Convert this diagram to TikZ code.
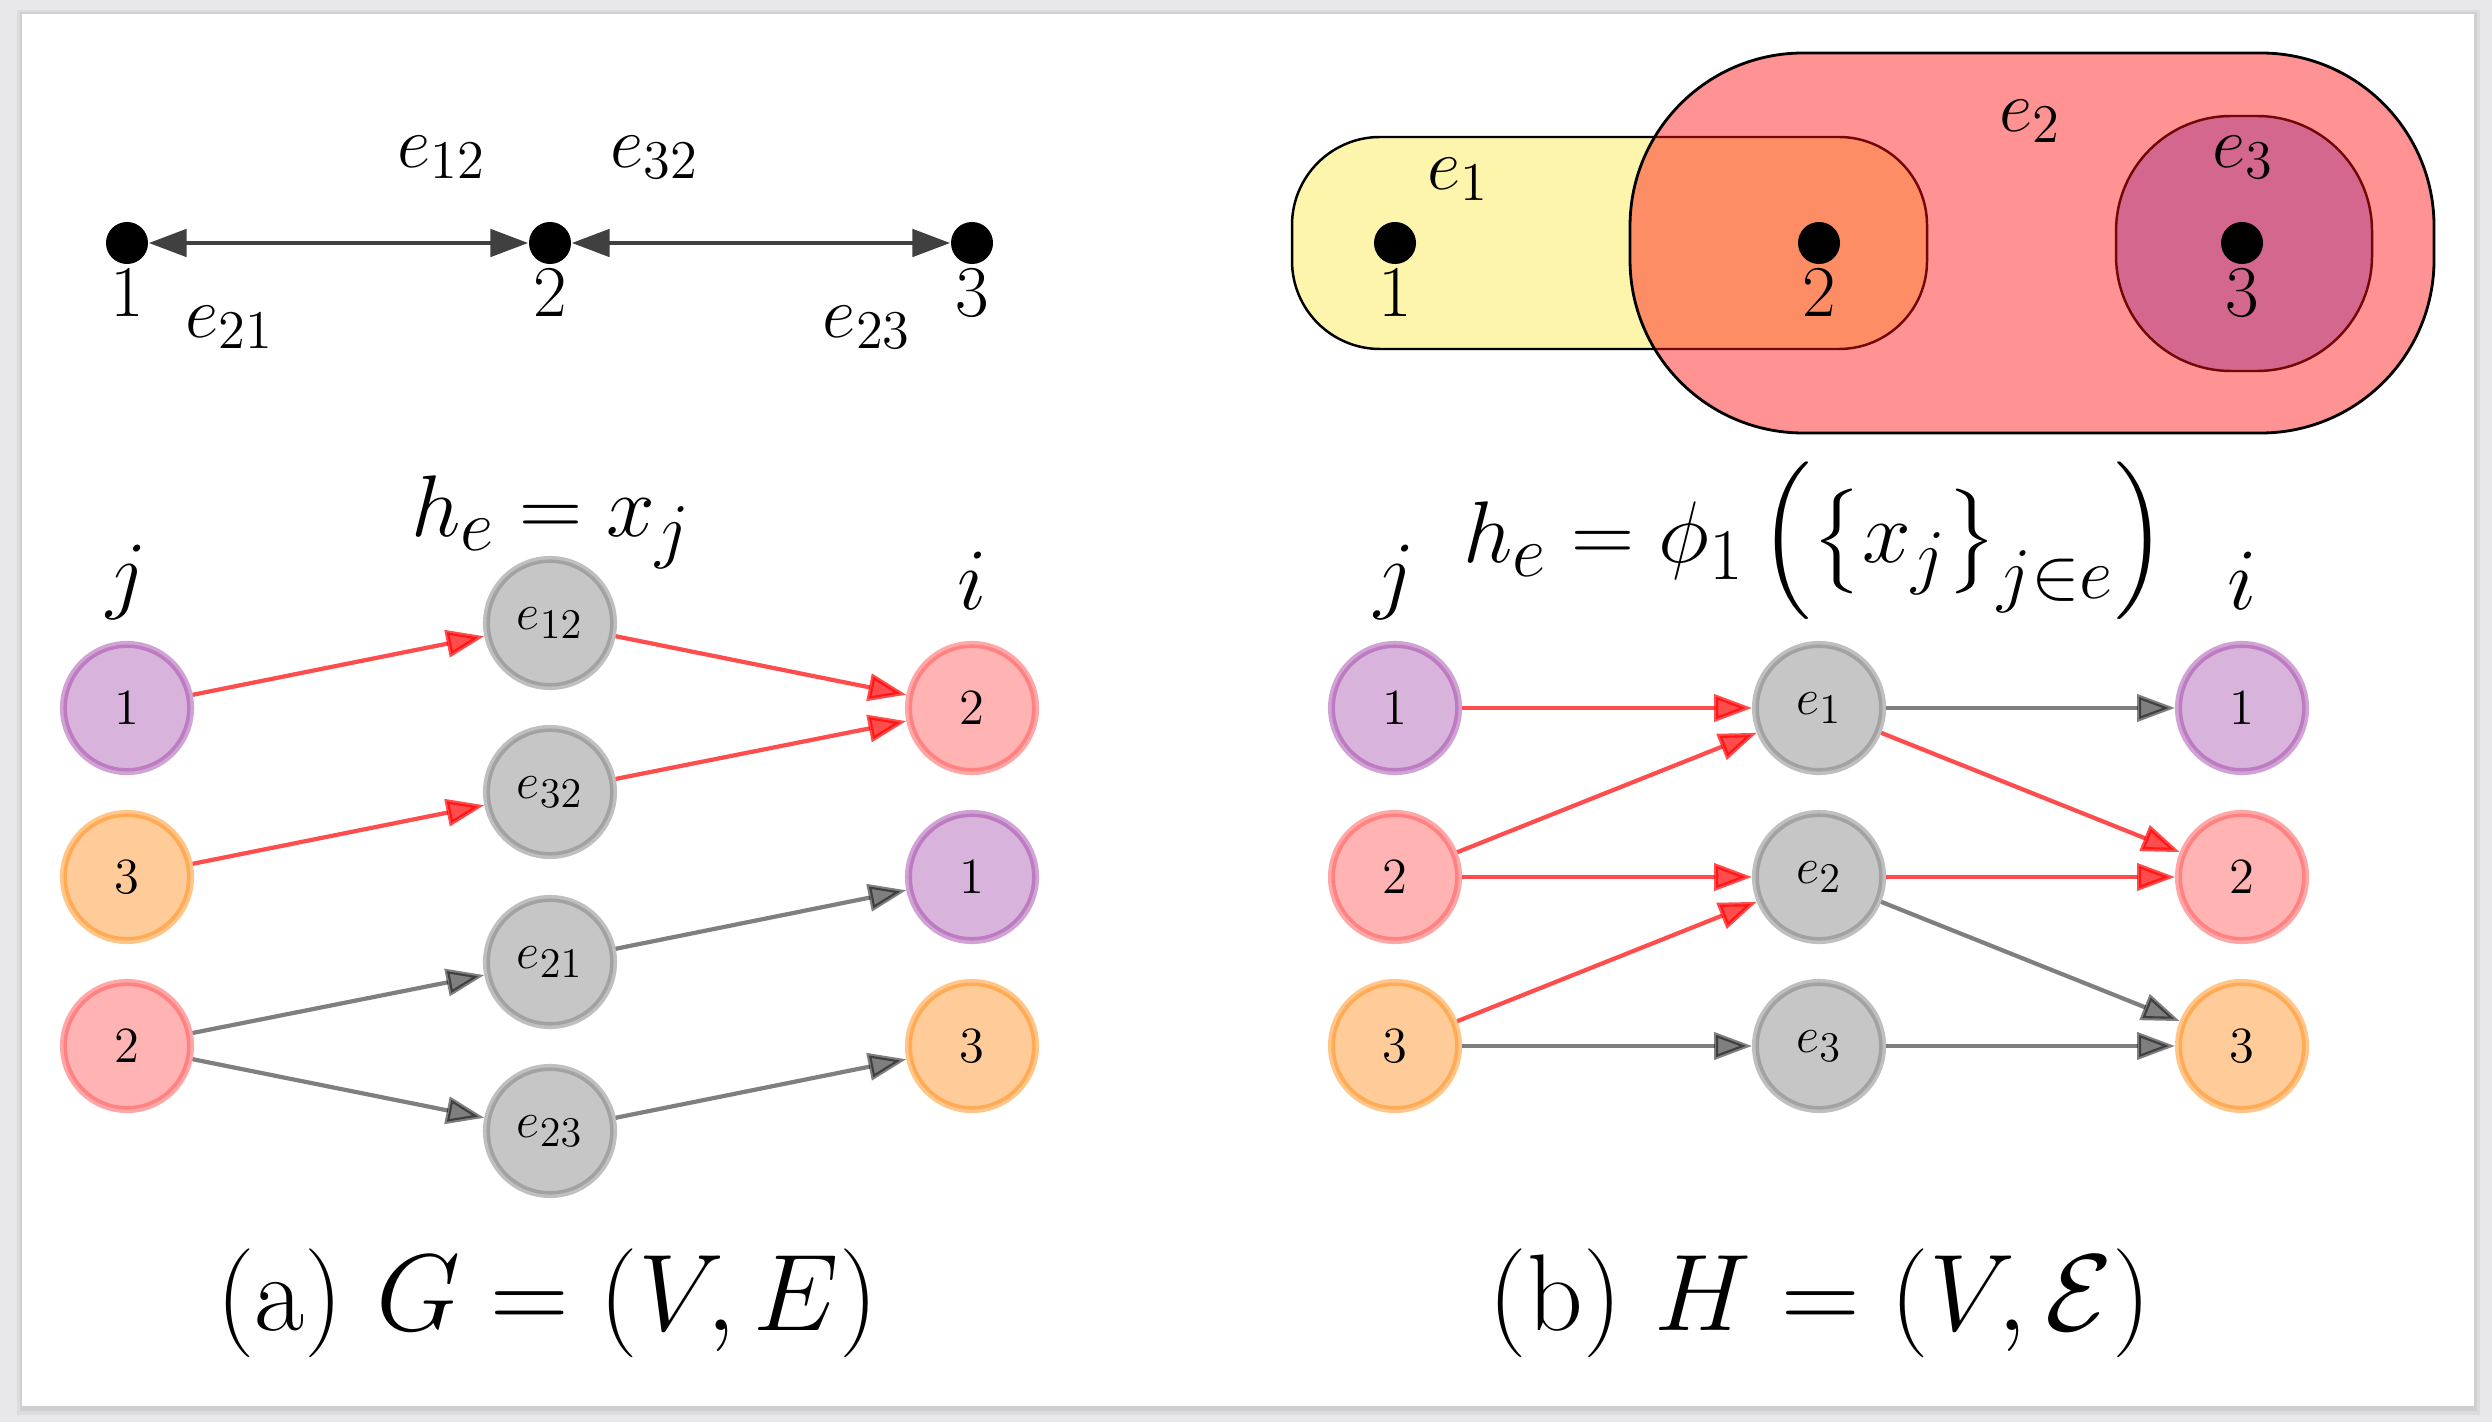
\RequirePackage{fix-cm}
\documentclass[tikz,border=0pt]{standalone}
\usepackage{amsmath}
\usetikzlibrary{arrows.meta}
\DeclareMathSizes{14.4}{14.4}{12}{10}
\DeclareMathSizes{20.74}{20.74}{15.5}{12}
\definecolor{bgframe}{RGB}{232,232,235}
\definecolor{pfill}{RGB}{216,179,219}
\definecolor{pdraw}{RGB}{164,71,171}
\definecolor{ofill}{RGB}{255,204,153}
\definecolor{odraw}{RGB}{255,140,20}
\definecolor{rfill}{RGB}{255,179,179}
\definecolor{rdraw}{RGB}{255,80,80}
\definecolor{gfill}{RGB}{198,198,198}
\definecolor{gdraw}{RGB}{128,128,128}
\definecolor{hyA}{RGB}{253,245,172}
\definecolor{hyB}{RGB}{255,15,15}
\definecolor{hyC}{RGB}{175,177,248}
\newcommand\labfont{\fontsize{20.74}{25}\selectfont}
\newcommand\formfont{\fontsize{24.88}{30}\selectfont}
\newcommand\vertfont{\fontsize{14.4}{17}\selectfont}
\newcommand\capfont{\fontsize{31}{37}\selectfont}
\begin{document}
\begin{tikzpicture}[x=0.01cm,y=-0.01cm,
  vert/.style={circle,minimum size=1.27cm,inner sep=0pt,line width=2pt,draw opacity=0.5,font=\vertfont},
  pv/.style={vert,fill=pfill,draw=pdraw},
  ov/.style={vert,fill=ofill,draw=odraw},
  rv/.style={vert,fill=rfill,draw=rdraw},
  gv/.style={vert,fill=gfill,draw=gdraw},
  redarr/.style={draw=red,opacity=0.7,line width=1.2pt,-{Triangle[length=10.8pt,width=7.7pt]}},
  grayarr/.style={draw=black,opacity=0.5,line width=1.2pt,-{Triangle[length=10.8pt,width=7.7pt]}},
  toparr/.style={draw=black!75,line width=1.4pt,{Triangle[length=10.8pt,width=7.7pt]}-{Triangle[length=10.8pt,width=7.7pt]}},
  dotnode/.style={circle,fill=black,minimum size=0.42cm,inner sep=0pt},
  lab/.style={font=\labfont,inner sep=0pt,anchor=base},
  formlab/.style={font=\formfont,inner sep=0pt,anchor=base},
  captext/.style={font=\capfont,inner sep=0pt,anchor=base}
]
% page frame
\fill[bgframe] (0,0) rectangle (2492,1422);
\fill[black,opacity=0.05] (17,10) rectangle (2480,1415);
\fill[black,opacity=0.06] (20,12) rectangle (2477,1411);
\fill[white] (22,14) rectangle (2474,1406);
\useasboundingbox (0,0) rectangle (2492,1422);

% ---------- top left: graph ----------
\node[dotnode] (t1) at (127,243) {};
\node[dotnode] (t2) at (550,243) {};
\node[dotnode] (t3) at (972,243) {};
\draw[toparr] (t1) -- (t2);
\draw[toparr] (t2) -- (t3);
\node[lab] (tl1) at (127,317) {$1$};
\node[lab] (tl2) at (550,317) {$2$};
\node[lab] (tl3) at (972,317) {$3$};
\node[lab] (te12) at (442,168) {$e_{12}$};
\node[lab] (te32) at (655,168) {$e_{32}$};
\node[lab] (te21) at (230,338) {$e_{21}$};
\node[lab] (te23) at (867,338) {$e_{23}$};

% ---------- top right: hypergraph ----------
\draw[rounded corners=0.88cm,fill=hyA,line width=0.7pt] (1292,137) rectangle (1927,349);
\draw[rounded corners=1.15cm,fill=hyC,line width=0.7pt] (2116,116) rectangle (2372,371);
\draw[rounded corners=1.73cm,fill=hyB,fill opacity=0.45,line width=0.8pt] (1630,53) rectangle (2434,433);
\node[dotnode] (h1) at (1395,243) {};
\node[dotnode] (h2) at (1819,243) {};
\node[dotnode] (h3) at (2242,243) {};
\node[lab] (hl1) at (1395,317) {$1$};
\node[lab] (hl2) at (1819,317) {$2$};
\node[lab] (hl3) at (2242,317) {$3$};
\node[lab] (he1) at (1458,190) {$e_1$};
\node[lab] (he2) at (2030,132) {$e_2$};
\node[lab] (he3) at (2243,168) {$e_3$};

% ---------- bottom left ----------
\node[pv] (aj1) at (127,708) {$1$};
\node[ov] (aj3) at (127,877) {$3$};
\node[rv] (aj2) at (127,1046) {$2$};
\node[gv] (ae12) at (550,623) {$e_{12}$};
\node[gv] (ae32) at (550,792) {$e_{32}$};
\node[gv] (ae21) at (550,962) {$e_{21}$};
\node[gv] (ae23) at (550,1131) {$e_{23}$};
\node[rv] (ai2) at (972,708) {$2$};
\node[pv] (ai1) at (972,877) {$1$};
\node[ov] (ai3) at (972,1046) {$3$};
\draw[redarr] (aj1) -- (ae12);
\draw[redarr] (ae12) -- (ai2);
\draw[redarr] (aj3) -- (ae32);
\draw[redarr] (ae32) -- (ai2);
\draw[grayarr] (aj2) -- (ae21);
\draw[grayarr] (ae21) -- (ai1);
\draw[grayarr] (aj2) -- (ae23);
\draw[grayarr] (ae23) -- (ai3);
\node[formlab] (aj) at (127,603) {$j$};
\node[formlab] (ai) at (972,610) {$i$};
\node[formlab] (aform) at (551,537) {$h_e = x_j$};
\node[captext] (acap) at (547,1330) {(a) $G = (V, E)$};

% ---------- bottom right ----------
\node[pv] (bj1) at (1395,708) {$1$};
\node[rv] (bj2) at (1395,877) {$2$};
\node[ov] (bj3) at (1395,1046) {$3$};
\node[gv] (be1) at (1819,708) {$e_1$};
\node[gv] (be2) at (1819,877) {$e_2$};
\node[gv] (be3) at (1819,1046) {$e_3$};
\node[pv] (bi1) at (2242,708) {$1$};
\node[rv] (bi2) at (2242,877) {$2$};
\node[ov] (bi3) at (2242,1046) {$3$};
\draw[redarr] (bj1) -- (be1);
\draw[redarr] (bj2) -- (be1);
\draw[redarr] (bj2) -- (be2);
\draw[redarr] (bj3) -- (be2);
\draw[grayarr] (bj3) -- (be3);
\draw[grayarr] (be1) -- (bi1);
\draw[redarr] (be1) -- (bi2);
\draw[redarr] (be2) -- (bi2);
\draw[grayarr] (be2) -- (bi3);
\draw[grayarr] (be3) -- (bi3);
\node[formlab] (bj) at (1395,603) {$j$};
\node[formlab] (bi) at (2242,610) {$i$};
\node[formlab] (bform) at (1815,563) {$h_e = \phi_1 \mathinner{\Bigl( \left\{ x_j \right\}_{j\in e} \Bigr)}$};
\node[captext] (bcap) at (1820,1330) {(b) $H = (V, \mathcal{E})$};
\end{tikzpicture}
\end{document}
